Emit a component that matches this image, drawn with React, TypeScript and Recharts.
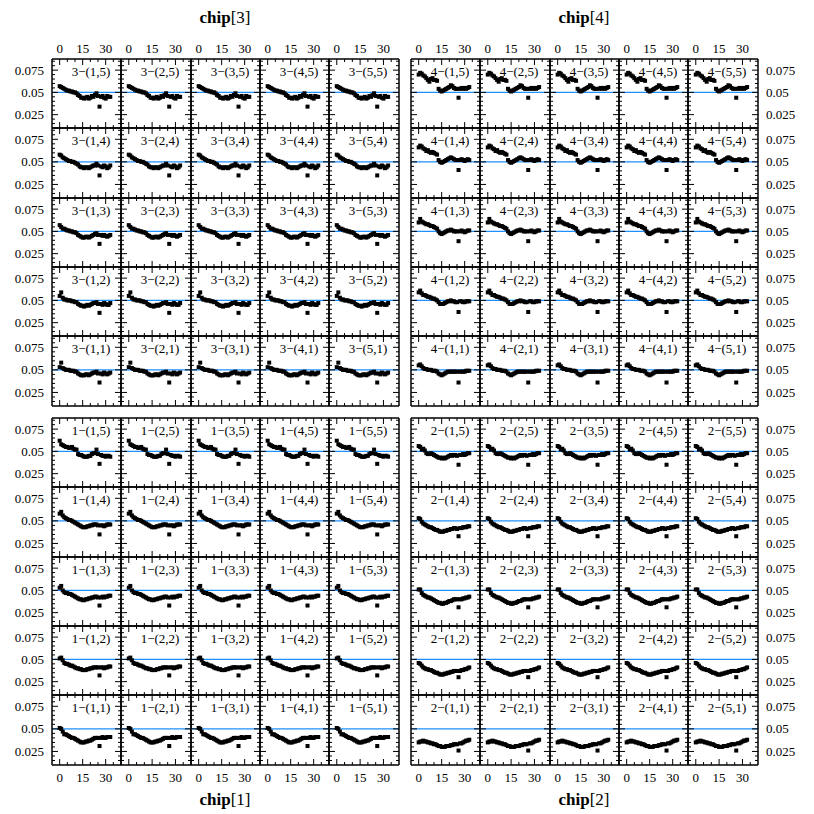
import { ReferenceLine, Scatter, ScatterChart, XAxis, YAxis } from "recharts";

// sample index along the strip (same for every panel)
const xs = [0, 1, 2, 3, 4, 5, 6, 7, 8, 9, 10, 11, 12, 13, 14, 15, 16, 17, 18, 19, 20, 21, 22, 23, 24, 25, 26, 27, 28, 29, 30, 31, 32, 33];

const xTicks = [0, 5, 10, 15, 20, 25, 30, 35];
const xLabelTicks = [0, 15, 30];
const yTicks = [0.015, 0.02, 0.025, 0.03, 0.035, 0.04, 0.045, 0.05, 0.055, 0.06, 0.065, 0.07, 0.075, 0.08, 0.085];
const yLabelTicks = [0.025, 0.05, 0.075];
const refLevel = 0.05;

const rowNames = [5, 4, 3, 2, 1];
const colNames = [1, 2, 3, 4, 5];

// chip 3 (top left)
const chip3Row5 = [0.057, 0.056, 0.055, 0.054, 0.053, 0.052, 0.052, 0.051, 0.051, 0.05, 0.05, 0.049, 0.047, 0.046, 0.044, 0.044, 0.043, 0.044, 0.045, 0.043, 0.044, 0.046, 0.045, 0.047, 0.049, 0.046, 0.034, 0.045, 0.046, 0.044, 0.043, 0.046, 0.045, 0.045];
const chip3Row4 = [0.058, 0.057, 0.055, 0.054, 0.053, 0.052, 0.051, 0.051, 0.05, 0.05, 0.049, 0.048, 0.047, 0.045, 0.044, 0.044, 0.043, 0.044, 0.044, 0.043, 0.044, 0.045, 0.046, 0.046, 0.048, 0.046, 0.035, 0.045, 0.044, 0.046, 0.045, 0.043, 0.044, 0.046];
const chip3Row3 = [0.057, 0.055, 0.053, 0.053, 0.052, 0.051, 0.051, 0.05, 0.05, 0.049, 0.049, 0.048, 0.046, 0.045, 0.044, 0.043, 0.043, 0.044, 0.044, 0.043, 0.044, 0.045, 0.046, 0.047, 0.048, 0.046, 0.036, 0.046, 0.045, 0.046, 0.045, 0.044, 0.045, 0.046];
const chip3Row2 = [0.055, 0.059, 0.053, 0.051, 0.051, 0.05, 0.05, 0.05, 0.049, 0.049, 0.048, 0.048, 0.046, 0.045, 0.044, 0.044, 0.043, 0.044, 0.045, 0.044, 0.045, 0.046, 0.047, 0.047, 0.048, 0.046, 0.036, 0.046, 0.045, 0.047, 0.046, 0.045, 0.045, 0.047];
const chip3Row1 = [0.053, 0.058, 0.052, 0.051, 0.05, 0.05, 0.05, 0.049, 0.049, 0.049, 0.048, 0.048, 0.046, 0.045, 0.044, 0.044, 0.044, 0.045, 0.045, 0.044, 0.045, 0.046, 0.047, 0.047, 0.048, 0.046, 0.036, 0.046, 0.045, 0.047, 0.046, 0.045, 0.046, 0.047];

// chip 4 (top right)
const chip4Row5 = [0.07, 0.072, 0.071, 0.069, 0.068, 0.066, 0.064, 0.062, 0.065, 0.066, 0.064, 0.064, 0.063, 0.054, 0.052, 0.051, 0.052, 0.053, 0.054, 0.055, 0.056, 0.058, 0.057, 0.055, 0.054, 0.054, 0.044, 0.054, 0.055, 0.054, 0.055, 0.054, 0.055, 0.056];
const chip4Row4 = [0.066, 0.068, 0.067, 0.065, 0.064, 0.062, 0.063, 0.061, 0.06, 0.061, 0.06, 0.059, 0.058, 0.052, 0.05, 0.049, 0.05, 0.051, 0.052, 0.053, 0.054, 0.055, 0.054, 0.053, 0.052, 0.052, 0.041, 0.052, 0.053, 0.052, 0.051, 0.052, 0.053, 0.052];
const chip4Row3 = [0.06, 0.064, 0.061, 0.06, 0.059, 0.058, 0.058, 0.057, 0.056, 0.056, 0.055, 0.054, 0.053, 0.05, 0.048, 0.047, 0.048, 0.049, 0.05, 0.051, 0.051, 0.052, 0.051, 0.05, 0.05, 0.05, 0.039, 0.05, 0.051, 0.05, 0.049, 0.05, 0.051, 0.051];
const chip4Row2 = [0.059, 0.061, 0.058, 0.056, 0.056, 0.055, 0.054, 0.054, 0.053, 0.052, 0.052, 0.051, 0.05, 0.048, 0.046, 0.046, 0.046, 0.047, 0.048, 0.049, 0.049, 0.05, 0.049, 0.049, 0.048, 0.048, 0.037, 0.049, 0.049, 0.048, 0.048, 0.049, 0.049, 0.049];
const chip4Row1 = [0.055, 0.056, 0.054, 0.052, 0.051, 0.051, 0.05, 0.05, 0.05, 0.049, 0.049, 0.049, 0.048, 0.046, 0.045, 0.044, 0.045, 0.046, 0.047, 0.048, 0.048, 0.048, 0.048, 0.048, 0.048, 0.048, 0.036, 0.048, 0.048, 0.048, 0.048, 0.049, 0.049, 0.049];

// chip 1 (bottom left)
const chip1Row5 = [0.062, 0.058, 0.057, 0.056, 0.055, 0.055, 0.054, 0.054, 0.055, 0.053, 0.052, 0.052, 0.047, 0.046, 0.046, 0.045, 0.044, 0.044, 0.044, 0.045, 0.045, 0.047, 0.048, 0.048, 0.052, 0.047, 0.036, 0.046, 0.045, 0.045, 0.044, 0.045, 0.045, 0.044];
const chip1Row4 = [0.058, 0.06, 0.056, 0.054, 0.053, 0.052, 0.051, 0.051, 0.05, 0.049, 0.048, 0.047, 0.046, 0.045, 0.044, 0.043, 0.043, 0.043, 0.044, 0.044, 0.045, 0.045, 0.046, 0.046, 0.046, 0.045, 0.035, 0.045, 0.045, 0.044, 0.045, 0.046, 0.046, 0.046];
const chip1Row3 = [0.053, 0.055, 0.05, 0.048, 0.047, 0.047, 0.046, 0.046, 0.045, 0.044, 0.043, 0.042, 0.041, 0.04, 0.04, 0.039, 0.039, 0.04, 0.04, 0.041, 0.041, 0.042, 0.042, 0.043, 0.043, 0.042, 0.033, 0.042, 0.043, 0.042, 0.043, 0.043, 0.044, 0.044];
const chip1Row2 = [0.051, 0.052, 0.049, 0.046, 0.045, 0.045, 0.044, 0.043, 0.043, 0.042, 0.041, 0.04, 0.04, 0.039, 0.039, 0.038, 0.038, 0.038, 0.039, 0.039, 0.04, 0.04, 0.041, 0.041, 0.041, 0.041, 0.032, 0.041, 0.041, 0.04, 0.041, 0.041, 0.042, 0.042];
const chip1Row1 = [0.051, 0.05, 0.047, 0.044, 0.044, 0.043, 0.042, 0.041, 0.04, 0.04, 0.039, 0.038, 0.037, 0.036, 0.035, 0.035, 0.035, 0.036, 0.036, 0.037, 0.037, 0.038, 0.039, 0.04, 0.04, 0.04, 0.031, 0.04, 0.041, 0.04, 0.04, 0.041, 0.041, 0.041];

// chip 2 (bottom right)
const chip2Row5 = [0.056, 0.055, 0.052, 0.053, 0.051, 0.048, 0.047, 0.047, 0.048, 0.047, 0.046, 0.045, 0.044, 0.043, 0.043, 0.042, 0.043, 0.042, 0.043, 0.044, 0.045, 0.046, 0.045, 0.046, 0.046, 0.045, 0.035, 0.046, 0.046, 0.047, 0.046, 0.047, 0.048, 0.048];
const chip2Row4 = [0.053, 0.052, 0.049, 0.047, 0.046, 0.045, 0.044, 0.043, 0.043, 0.042, 0.041, 0.04, 0.04, 0.039, 0.038, 0.038, 0.038, 0.039, 0.039, 0.04, 0.04, 0.041, 0.041, 0.042, 0.042, 0.041, 0.033, 0.042, 0.042, 0.043, 0.043, 0.043, 0.044, 0.044];
const chip2Row3 = [0.051, 0.051, 0.047, 0.045, 0.044, 0.043, 0.042, 0.042, 0.041, 0.04, 0.039, 0.038, 0.037, 0.036, 0.036, 0.035, 0.035, 0.036, 0.036, 0.037, 0.038, 0.038, 0.039, 0.04, 0.04, 0.04, 0.031, 0.04, 0.04, 0.041, 0.041, 0.042, 0.042, 0.043];
const chip2Row2 = [0.046, 0.045, 0.043, 0.041, 0.04, 0.039, 0.039, 0.038, 0.038, 0.037, 0.036, 0.035, 0.035, 0.034, 0.033, 0.033, 0.033, 0.034, 0.034, 0.035, 0.035, 0.036, 0.036, 0.037, 0.037, 0.037, 0.03, 0.037, 0.038, 0.038, 0.039, 0.039, 0.04, 0.041];
const chip2Row1 = [0.035, 0.036, 0.036, 0.037, 0.036, 0.036, 0.035, 0.035, 0.034, 0.034, 0.033, 0.033, 0.032, 0.031, 0.031, 0.03, 0.03, 0.03, 0.031, 0.031, 0.031, 0.032, 0.032, 0.033, 0.033, 0.033, 0.026, 0.034, 0.034, 0.035, 0.036, 0.037, 0.037, 0.038];

const profiles: Record<number, Record<number, number[]>> = {
  3: { 5: chip3Row5, 4: chip3Row4, 3: chip3Row3, 2: chip3Row2, 1: chip3Row1 },
  4: { 5: chip4Row5, 4: chip4Row4, 3: chip4Row3, 2: chip4Row2, 1: chip4Row1 },
  1: { 5: chip1Row5, 4: chip1Row4, 3: chip1Row3, 2: chip1Row2, 1: chip1Row1 },
  2: { 5: chip2Row5, 4: chip2Row4, 3: chip2Row3, 2: chip2Row2, 1: chip2Row1 },
};

// layout
const PAD = 50;
const AX = 1; // axes need a non-zero size or recharts skips them
const PANEL = 69.3;
const FONT = "'Liberation Serif', 'DejaVu Serif', serif";
const blocks = [
  { chip: 3, left: 52, top: 59, labelTop: true, labelBottom: false, labelLeft: true, labelRight: false },
  { chip: 4, left: 411, top: 59, labelTop: true, labelBottom: false, labelLeft: false, labelRight: true },
  { chip: 1, left: 52, top: 418, labelTop: false, labelBottom: true, labelLeft: true, labelRight: false },
  { chip: 2, left: 411, top: 418, labelTop: false, labelBottom: true, labelLeft: false, labelRight: true },
];

function Square(props: any) {
  const { cx, cy } = props;
  if (cx == null || cy == null) return null;
  return <rect x={cx - 2} y={cy - 2} width={4} height={4} fill="#000" />;
}

function AxisTick(props: any) {
  const { x, y, payload, side, showLabel } = props;
  const v = payload.value;
  const major = side === "top" || side === "bottom" ? xLabelTicks.includes(v) : yLabelTicks.includes(v);
  const len = major ? 6 : 3;
  const textProps = { fill: "#000", fontSize: 13, fontFamily: FONT };
  if (side === "bottom") {
    return (
      <g>
        <line x1={x} y1={y} x2={x} y2={y - len} stroke="#000" />
        {showLabel && major && (
          <text x={x} y={y + 12} textAnchor="middle" dominantBaseline="central" {...textProps}>{v}</text>
        )}
      </g>
    );
  }
  if (side === "top") {
    return (
      <g>
        <line x1={x} y1={y} x2={x} y2={y + len} stroke="#000" />
        {showLabel && major && (
          <text x={x} y={y - 11} textAnchor="middle" dominantBaseline="central" {...textProps}>{v}</text>
        )}
      </g>
    );
  }
  if (side === "left") {
    return (
      <g>
        <line x1={x} y1={y} x2={x + len} y2={y} stroke="#000" />
        {showLabel && major && (
          <text x={x - 8} y={y} textAnchor="end" dominantBaseline="central" {...textProps}>{v}</text>
        )}
      </g>
    );
  }
  return (
    <g>
      <line x1={x} y1={y} x2={x - len} y2={y} stroke="#000" />
      {showLabel && major && (
        <text x={x + 8} y={y} textAnchor="start" dominantBaseline="central" {...textProps}>{v}</text>
      )}
    </g>
  );
}

function Panel({ chip, row, col, left, top, w, h, showTop, showBottom, showLeft, showRight }: any) {
  const values = profiles[chip][row];
  const data = xs.map((x, i) => ({ x, y: values[i] }));
  const axisLine = { stroke: "#000", strokeWidth: 1.5 };
  const m = PAD - AX;
  return (
    <div style={{ position: "absolute", left: left - PAD, top: top - PAD }}>
      <ScatterChart width={w + 2 * PAD} height={h + 2 * PAD} margin={{ top: m, right: m, bottom: m, left: m }}>
        <XAxis xAxisId="b" type="number" dataKey="x" orientation="bottom" domain={[-5, 40]} ticks={xTicks} interval={0}
          height={AX} tickSize={0} tickMargin={0} tickLine={false} axisLine={axisLine} allowDataOverflow
          tick={<AxisTick side="bottom" showLabel={showBottom} />} />
        <XAxis xAxisId="t" type="number" dataKey="x" orientation="top" domain={[-5, 40]} ticks={xTicks} interval={0}
          height={AX} tickSize={0} tickMargin={0} tickLine={false} axisLine={axisLine} allowDataOverflow
          tick={<AxisTick side="top" showLabel={showTop} />} />
        <YAxis yAxisId="l" type="number" dataKey="y" orientation="left" domain={[0.01, 0.0875]} ticks={yTicks} interval={0}
          width={AX} tickSize={0} tickMargin={0} tickLine={false} axisLine={axisLine} allowDataOverflow
          tick={<AxisTick side="left" showLabel={showLeft} />} />
        <YAxis yAxisId="r" type="number" dataKey="y" orientation="right" domain={[0.01, 0.0875]} ticks={yTicks} interval={0}
          width={AX} tickSize={0} tickMargin={0} tickLine={false} axisLine={axisLine} allowDataOverflow
          tick={<AxisTick side="right" showLabel={showRight} />} />
        <ReferenceLine xAxisId="b" yAxisId="l" y={refLevel} stroke="#1e90ff" strokeWidth={1.4} />
        <Scatter xAxisId="b" yAxisId="l" data={data} shape={<Square />} isAnimationActive={false} />
      </ScatterChart>
      <div style={{
        position: "absolute", left: PAD + 39 - 30, top: PAD + 13 - 8, width: 60, textAlign: "center",
        fontFamily: FONT, fontSize: 13, lineHeight: "16px", color: "#000",
      }}>
        {`${chip}\u2212(${col},${row})`}
      </div>
    </div>
  );
}

function ChipTitle({ chip, x, y }: { chip: number; x: number; y: number }) {
  return (
    <div style={{
      position: "absolute", left: x - 50, top: y - 10, width: 100, textAlign: "center",
      fontFamily: FONT, fontSize: 17, lineHeight: "20px", color: "#000",
    }}>
      <span style={{ fontWeight: "bold" }}>chip</span>[{chip}]
    </div>
  );
}

export default function App() {
  const panels: any[] = [];
  blocks.forEach((b) => {
    rowNames.forEach((row, ri) => {
      colNames.forEach((col, ci) => {
        const left = Math.round(b.left + ci * PANEL);
        const right = Math.round(b.left + (ci + 1) * PANEL);
        const top = Math.round(b.top + ri * PANEL);
        const bottom = Math.round(b.top + (ri + 1) * PANEL);
        panels.push(
          <Panel key={`${b.chip}-${col}-${row}`} chip={b.chip} row={row} col={col}
            left={left} top={top} w={right - left} h={bottom - top}
            showTop={b.labelTop && ri === 0} showBottom={b.labelBottom && ri === 4}
            showLeft={b.labelLeft && ci === 0} showRight={b.labelRight && ci === 4} />
        );
      });
    });
  });
  return (
    <div style={{ position: "absolute", left: 0, top: 0, width: 814, height: 814, background: "#fff" }}>
      {panels}
      <ChipTitle chip={3} x={225} y={18} />
      <ChipTitle chip={4} x={584} y={18} />
      <ChipTitle chip={1} x={225} y={800} />
      <ChipTitle chip={2} x={584} y={800} />
    </div>
  );
}
